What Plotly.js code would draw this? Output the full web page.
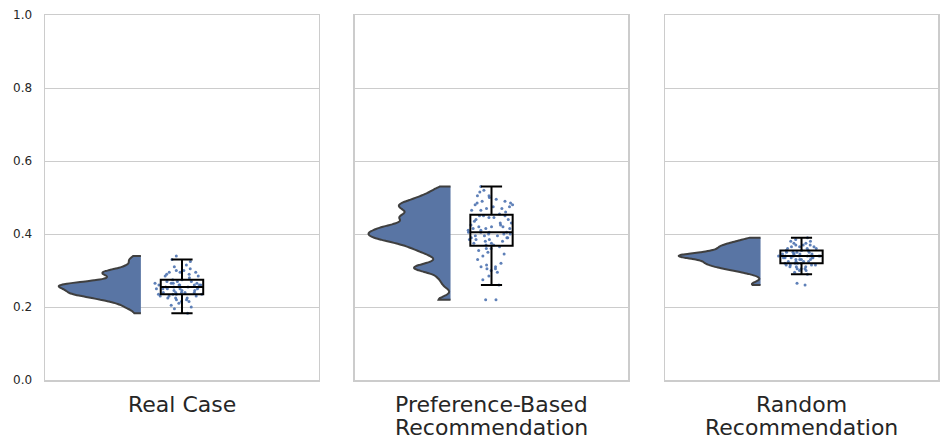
<!DOCTYPE html>
<html>
<head>
<meta charset="utf-8">
<script src="https://cdn.plot.ly/plotly-3.0.1.min.js"></script>
<style>
  html, body { margin: 0; padding: 0; background: #fff; }
  #chart { width: 948px; height: 447px; }
</style>
</head>
<body>
<div id="chart"></div>
<script>
// one entry per panel, one string per text line
const labels = [["Real Case"], ["Preference-Based", "Recommendation"], ["Random", "Recommendation"]];

const realCase = [
  0.183, 0.195, 0.200, 0.205, 0.210, 0.215, 0.215, 0.220, 0.220,
  0.225, 0.225, 0.225, 0.230, 0.230, 0.230,
  0.235, 0.235, 0.235, 0.235, 0.240, 0.240, 0.240, 0.240, 0.240,
  0.245, 0.245, 0.245, 0.250, 0.250, 0.250, 0.250, 0.250,
  0.255, 0.255, 0.255, 0.255,
  0.260, 0.260, 0.260, 0.260, 0.260, 0.260,
  0.265, 0.265, 0.265, 0.265, 0.270, 0.270, 0.270, 0.275, 0.275,
  0.280, 0.285, 0.285, 0.290, 0.290, 0.295, 0.295, 0.295,
  0.300, 0.300, 0.305, 0.310, 0.315, 0.325, 0.330, 0.340
];

const preferenceBased = [
  0.220, 0.220, 0.260, 0.275, 0.285, 0.295, 0.300, 0.305, 0.305, 0.310, 0.310,
  0.315, 0.320, 0.330, 0.340, 0.345, 0.350, 0.355, 0.360, 0.360, 0.365,
  0.370, 0.370, 0.375, 0.375, 0.380, 0.380, 0.385, 0.385, 0.385,
  0.390, 0.390, 0.390, 0.395, 0.395, 0.395, 0.400, 0.400, 0.400,
  0.405, 0.405, 0.405, 0.405, 0.410, 0.410, 0.415, 0.415, 0.415,
  0.420, 0.420, 0.420, 0.425, 0.425, 0.430, 0.430, 0.435, 0.440, 0.440,
  0.445, 0.445, 0.450, 0.450, 0.450, 0.455, 0.460, 0.465, 0.465,
  0.470, 0.470, 0.475, 0.475, 0.480, 0.480, 0.485, 0.485, 0.490, 0.490,
  0.495, 0.500, 0.505, 0.505, 0.515, 0.520, 0.530
];

const randomRec = [
  0.260, 0.265, 0.290, 0.295, 0.300, 0.300, 0.305, 0.305, 0.305,
  0.310, 0.310, 0.310, 0.315, 0.315, 0.315, 0.315, 0.320, 0.320, 0.320, 0.320,
  0.325, 0.325, 0.325, 0.325, 0.330, 0.330, 0.330, 0.330,
  0.335, 0.335, 0.335, 0.335, 0.335,
  0.340, 0.340, 0.340, 0.340, 0.340, 0.340, 0.340, 0.340,
  0.345, 0.345, 0.345, 0.345, 0.345, 0.350, 0.350, 0.350, 0.350,
  0.355, 0.355, 0.355, 0.360, 0.360, 0.360, 0.365, 0.365, 0.365,
  0.370, 0.370, 0.370, 0.375, 0.375, 0.380, 0.380, 0.385, 0.390
];

const yTicks = [0, 0.2, 0.4, 0.6, 0.8, 1.0];
const groups = [realCase, preferenceBased, randomRec];
const bandwidths = [0.007, 0.009, 0.006];

const domains = [[0, 0.3068], [0.3471, 0.6529], [0.6943, 1]];
const traces = [];
const annotations = [];
const layout = {
  width: 948,
  height: 447,
  margin: { l: 45, r: 10, t: 15, b: 67 },
  paper_bgcolor: "#fff",
  plot_bgcolor: "#fff",
  showlegend: false,
  font: { family: "DejaVu Sans", color: "#262626" },
};

groups.forEach((vals, i) => {
  const n = i === 0 ? "" : String(i + 1);
  const xa = "x" + n, ya = "y" + n;

  // half violin on the left
  traces.push({
    type: "violin",
    y: vals,
    x0: -0.3,
    xaxis: xa, yaxis: ya,
    side: "negative",
    width: 1.2,
    bandwidth: bandwidths[i],
    spanmode: "hard",
    points: false,
    box: { visible: false },
    meanline: { visible: false },
    fillcolor: "#5975a4",
    line: { color: "#3f3f3f", width: 2 },
    hoverinfo: "skip",
  });

  // strip points
  traces.push({
    type: "box",
    y: vals,
    x0: 0,
    xaxis: xa, yaxis: ya,
    width: 0.4,
    boxpoints: "all",
    jitter: 1,
    pointpos: 0,
    line: { width: 0, color: "rgba(0,0,0,0)" },
    fillcolor: "rgba(0,0,0,0)",
    marker: { color: "#4c72b0", size: 3, opacity: 0.9 },
    hoverinfo: "y",
  });

  // box, outliers hidden (the strip shows them)
  traces.push({
    type: "box",
    y: vals,
    x0: 0,
    xaxis: xa, yaxis: ya,
    width: 0.31,
    whiskerwidth: 0.5,
    boxpoints: "outliers",
    marker: { size: 0, opacity: 0 },
    line: { color: "#000", width: 2 },
    fillcolor: "rgba(0,0,0,0)",
    hoverinfo: "skip",
  });

  // category label under the panel, one annotation per line
  labels[i].forEach((line, k) => {
    annotations.push({
      text: line,
      xref: xa, x: 0,
      yref: "paper", y: -(24 + k * 23) / 365,
      yanchor: "middle",
      height: 22,
      showarrow: false,
      font: { size: 22, color: "#262626" },
    });
  });

  layout["xaxis" + n] = {
    domain: domains[i],
    anchor: ya,
    range: [-1, 1],
    showticklabels: false,
    ticks: "",
    showgrid: false,
    zeroline: false,
    showline: true,
    mirror: true,
    linecolor: "#cccccc",
    linewidth: 1.5,
    fixedrange: true,
  };
  layout["yaxis" + n] = {
    anchor: xa,
    range: [0, 1],
    tickvals: yTicks,
    tickformat: ".1f",
    tickfont: { size: 12, color: "#262626" },
    ticklabelstandoff: 9,
    showticklabels: i === 0,
    ticks: "",
    showgrid: true,
    gridcolor: "#cccccc",
    gridwidth: 1,
    zeroline: false,
    showline: true,
    mirror: true,
    linecolor: "#cccccc",
    linewidth: 1.5,
    fixedrange: true,
  };
});

layout.annotations = annotations;

Plotly.newPlot("chart", traces, layout, { displayModeBar: false, staticPlot: true });
</script>
</body>
</html>
